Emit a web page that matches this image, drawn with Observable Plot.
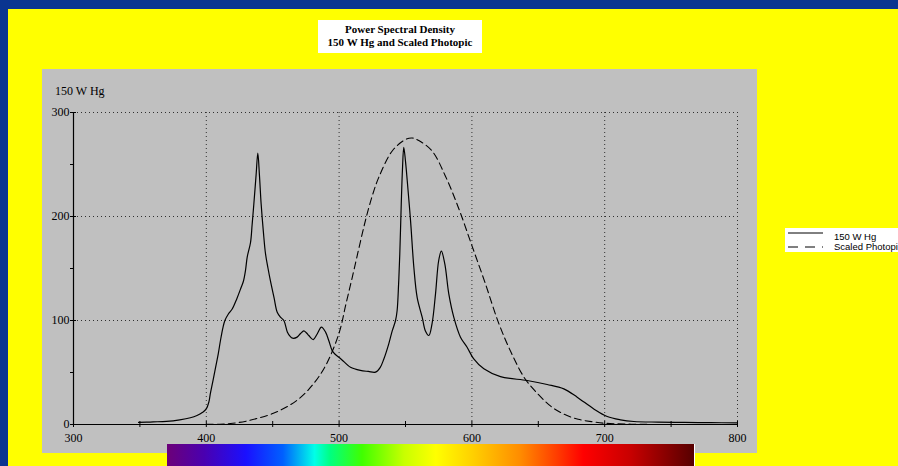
<!DOCTYPE html>
<html>
<head>
<meta charset="utf-8">
<script src="https://cdn.jsdelivr.net/npm/d3@7"></script>
<script src="https://cdn.jsdelivr.net/npm/@observablehq/plot@0.6"></script>
<style>
html, body { margin: 0; padding: 0; }
body { width: 898px; height: 466px; overflow: hidden; background: #0a3590; position: relative; }
#yellow { position: absolute; left: 8px; top: 9px; right: 0; bottom: 0; background: #ffff00; }
#panel { position: absolute; left: 42px; top: 69px; width: 715px; height: 384px; background: #c0c0c0; }
#spectrum { position: absolute; left: 167px; top: 444px; width: 527px; height: 22px; border-right: 1px solid #fff;
  background: linear-gradient(to right, #6c0078 0%, #4a00b0 7%, #1a10ff 15%, #0060ff 22%, #00ffe8 28%, #00ff80 31%, #40ff00 37%, #c8ff00 45%, #ffff00 51%, #ffd000 58%, #ff8c00 67%, #ff3c00 74%, #ff0000 79%, #c80000 88%, #560000 100%); }
#chart { position: absolute; left: 0; top: 0; }
#title { position: absolute; left: 318px; top: 20px; width: 164px; height: 33px; background: #fff;
  font: bold 11px "Liberation Serif", serif; text-align: center; line-height: 13px; padding-top: 3px; box-sizing: border-box; color: #000; }
#ylabel { position: absolute; left: 55px; top: 84px; font: 12px "Liberation Serif", serif; color: #000; }
#legend { position: absolute; left: 785px; top: 228px; width: 130px; height: 24px; background: #fff;
  font: 9.5px "Liberation Sans", Arial, sans-serif; color: #000; }
#legend .row { position: absolute; left: 0; height: 10px; width: 130px; }
#legend svg { position: absolute; left: 3px; top: 0; }
#legend span { position: absolute; left: 49px; top: 0; line-height: 10px; white-space: nowrap; }
</style>
</head>
<body>
<div id="yellow"></div>
<div id="panel"></div>
<div id="spectrum"></div>
<div id="chart"></div>
<div id="ylabel"></div>
<div id="title"></div>
<div id="legend"></div>
<script>
// ---- data ----
const titleLines = ["Power Spectral Density", "150 W Hg and Scaled Photopic"];
const yLabel = "150 W Hg";
const seriesNames = ["150 W Hg", "Scaled Photopic"];
const xTicks = [300, 400, 500, 600, 700, 800];
const xMinorTicks = [350, 450, 550, 650, 750];
const yTicks = [0, 100, 200, 300];
const yMinorTicks = [50, 150, 250];

const hgWavelength = [349, 355, 360, 370, 380, 388, 393, 397, 400, 402, 403, 405, 407, 409, 410.7, 412.5, 414, 416.5, 419.5, 423, 426, 428, 429.5, 430.8, 433.3, 434.5, 435.8, 437.5, 438.8, 440, 441.3, 443, 444.6, 446.5, 448.3, 451, 453.4, 456, 458.4, 461, 463, 465, 468.4, 471, 473.4, 475.5, 477.2, 480.5, 483.5, 486.7, 489.8, 492.2, 494.8, 497, 499.8, 504, 508.6, 516, 522, 527.4, 531, 533.7, 537.4, 540, 542.5, 543.7, 544.8, 545.7, 546.8, 547.7, 548.7, 550, 551.3, 553.8, 556.3, 558.8, 562.6, 565, 567.6, 570, 572.6, 575, 577, 579.6, 582.6, 586.4, 591.4, 596.4, 601.4, 609, 621.5, 641.6, 656.7, 669.2, 679.3, 691.8, 701.9, 711.9, 722, 740, 760, 780, 800];
const hgPower = [2, 2.2, 2.5, 3, 4.5, 6.5, 8.7, 11.5, 15, 22, 29.5, 42, 55, 68, 81, 93, 100, 106, 111, 121, 131, 138, 148, 161, 175, 192, 212, 240, 261, 240, 212, 185, 164, 150, 138, 122, 108, 103, 100, 89, 85, 83, 84, 87.5, 90, 88, 85.6, 81.7, 87, 93.6, 88.8, 80.8, 71, 67.5, 64.7, 60, 55, 52, 51, 50.3, 55, 63, 77.6, 90, 100, 109.6, 135, 164, 212, 245, 266.6, 253, 234.6, 196, 151, 122, 103, 90, 85.6, 97, 125.6, 157.7, 166.7, 154.5, 125.6, 103, 84, 74.3, 63, 53.5, 46, 42.3, 38.5, 34.3, 26.3, 15, 7.7, 4.5, 2.9, 2.3, 2, 1.8, 1.5];

const photoWavelength = [400, 410, 420, 430, 440, 450, 460, 470, 480, 490, 500, 505, 510, 515, 520, 525, 530, 540, 550, 555, 560, 570, 580, 590, 600, 610, 620, 630, 640, 650, 660, 670, 680, 690, 700, 710, 720, 730, 740, 750];
const photoPower = [0.1, 0.3, 1.2, 3.2, 6.4, 10.5, 16.5, 25, 38, 57, 88, 115, 142, 170, 197, 220, 238, 263, 274, 275.5, 273, 263, 239, 208, 172, 136, 98, 68, 44, 29, 17, 9.5, 5, 2.8, 1.2, 0.6, 0.3, 0.1, 0.05, 0];

// ---- build ----
const hg = hgWavelength.map((x, i) => ({x, y: hgPower[i]}));
const photo = photoWavelength.map((x, i) => ({x, y: photoPower[i]}));
const allX = [...xTicks, ...xMinorTicks];
const allY = [...yTicks, ...yMinorTicks];

const plot = Plot.plot({
  width: 898,
  height: 466,
  marginLeft: 73,
  marginRight: 161,
  marginTop: 112,
  marginBottom: 42,
  x: {domain: [300, 800]},
  y: {domain: [0, 300]},
  style: {background: "transparent", fontFamily: "'Liberation Serif', serif", fontSize: "12px", color: "#000", overflow: "visible"},
  marks: [
    Plot.gridX(xTicks.slice(1), {stroke: "#000", strokeOpacity: 0.75, strokeDasharray: "1,3"}),
    Plot.gridY(yTicks.slice(1), {stroke: "#000", strokeOpacity: 0.75, strokeDasharray: "1,3"}),
    Plot.axisX(xTicks, {tickSize: 3, tickPadding: 6, label: null, tickFormat: d => String(d), stroke: "#000"}),
    Plot.axisX(xMinorTicks, {tickSize: 3, label: null, tickFormat: () => "", stroke: "#000"}),
    Plot.axisX(allX, {tickSize: -3, label: null, tickFormat: () => "", stroke: "#000"}),
    Plot.axisY(yTicks, {tickSize: 3, tickPadding: 1, label: null, tickFormat: d => String(d), stroke: "#000"}),
    Plot.axisY(yMinorTicks, {tickSize: 3, label: null, tickFormat: () => "", stroke: "#000"}),
    Plot.axisY(yTicks, {tickSize: -3, label: null, tickFormat: () => "", stroke: "#000"}),
    Plot.ruleX([300], {stroke: "#000", strokeWidth: 1.2}),
    Plot.ruleY([0], {stroke: "#000", strokeWidth: 1.2}),
    Plot.line(photo, {x: "x", y: "y", stroke: "#000", strokeWidth: 1.1, strokeDasharray: "7,4", curve: "catmull-rom"}),
    Plot.line(hg, {x: "x", y: "y", stroke: "#000", strokeWidth: 1.2, curve: "catmull-rom"})
  ]
});
document.getElementById("chart").appendChild(plot);

document.getElementById("title").innerHTML = titleLines.map(t => `<div>${t}</div>`).join("");
document.getElementById("ylabel").textContent = yLabel;

const legend = document.getElementById("legend");
const dashes = [null, "10,7"];
seriesNames.forEach((name, i) => {
  const row = document.createElement("div");
  row.className = "row";
  row.style.top = (4 + i * 10) + "px";
  row.innerHTML = `<svg width="36" height="10"><line x1="0" x2="35" y1="${i === 0 ? 1 : 5}" y2="${i === 0 ? 1 : 5}" stroke="#000" stroke-width="1" ${dashes[i] ? `stroke-dasharray="${dashes[i]}"` : ""}/></svg><span>${name}</span>`;
  legend.appendChild(row);
});
</script>
</body>
</html>
